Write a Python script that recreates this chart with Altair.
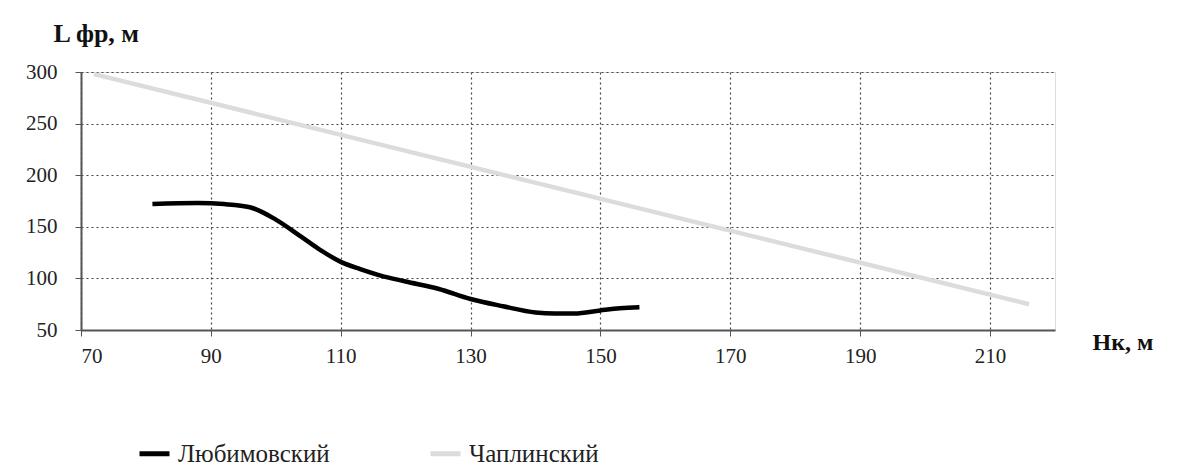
import altair as alt
import pandas as pd

lub_x = [81, 88, 92, 96, 100, 104, 107, 110, 113, 116, 120, 125, 130, 135, 140, 143, 146, 150, 153, 156]
lub_y = [172, 173, 172, 169, 157, 140, 127, 116, 109, 103, 97, 90, 80, 73, 67, 66, 66, 69, 71, 72]
cha_x = [72, 216]
cha_y = [298, 75]

s1 = "Любимовский"
s2 = "Чаплинский"

df = pd.concat([
    pd.DataFrame({"x": lub_x, "y": lub_y, "s": s1, "o": range(len(lub_x))}),
    pd.DataFrame({"x": cha_x, "y": cha_y, "s": s2, "o": range(len(cha_x))}),
])

FONT = "Liberation Serif"
W, H = 974, 258

x = alt.X("x:Q",
          scale=alt.Scale(domain=[70, 220], nice=False, zero=False),
          axis=alt.Axis(values=[70, 90, 110, 130, 150, 170, 190, 210],
                        title="Нк, м", titleFont=FONT, titleFontSize=24, titleFontWeight="bold",
                        titleAngle=0, titleAlign="left", titleBaseline="middle",
                        titleX=1011, titleY=12, titleColor="#111",
                        labelFont=FONT, labelFontSize=21, labelColor="#222", labelPadding=9,
                        domainColor="#555", domainWidth=2, tickColor="#555", tickSize=6,
                        grid=True, gridColor="#444", gridDash=[2, 3], gridWidth=1.2))
y = alt.Y("y:Q",
          scale=alt.Scale(domain=[50, 300], nice=False, zero=False),
          axis=alt.Axis(values=[50, 100, 150, 200, 250, 300],
                        title="L фр, м", titleFont=FONT, titleFontSize=26, titleFontWeight="bold",
                        titleAngle=0, titleAlign="left", titleBaseline="middle",
                        titleX=-28, titleY=-39, titleColor="#111",
                        labelFont=FONT, labelFontSize=21, labelColor="#222", labelPadding=18,
                        domainColor="#555", domainWidth=2, tickColor="#555", tickSize=6,
                        grid=True, gridColor="#444", gridDash=[2, 3], gridWidth=1.2))

color = alt.Color("s:N",
                  scale=alt.Scale(domain=[s1, s2], range=["#000000", "#dcdcdc"]),
                  legend=alt.Legend(title=None, orient="none", legendX=56, legendY=364,
                                    direction="horizontal", symbolType="stroke",
                                    symbolStrokeWidth=5, symbolSize=900,
                                    labelFont=FONT, labelFontSize=25, labelColor="#222",
                                    labelOffset=6, columnPadding=90, labelLimit=300))

chart = alt.Chart(df).mark_line(strokeWidth=4.5, interpolate="monotone").encode(
    x=x, y=y, color=color, order="o:Q"
).properties(
    width=W, height=H,
    autosize=alt.AutoSizeParams(type="none"),
    padding={"left": 81, "top": 72, "right": 126, "bottom": 144},
).configure_view(stroke=None).configure(background="white")

chart.save("out.html", embed_options={"renderer": "svg", "actions": False})
